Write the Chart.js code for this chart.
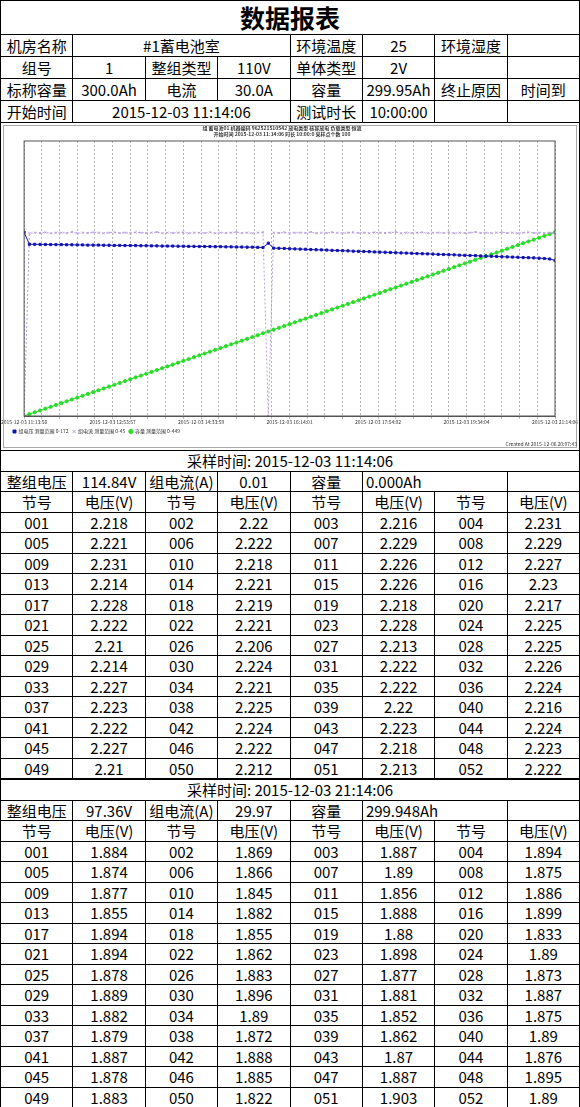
<!DOCTYPE html>
<html>
<head>
<meta charset="utf-8">
<script src="https://cdn.jsdelivr.net/npm/chart.js@4.4.0/dist/chart.umd.min.js"></script>
<style>
  body { margin: 0; background: #fff; font-family: "Noto Sans CJK SC", "Noto Sans", sans-serif; }
  #page { width: 580px; }
  table { width: 580px; border-collapse: collapse; table-layout: fixed; }
  td { border: 1px solid #000; padding: 0; font-size: 15px; line-height: 1; text-align: center; white-space: nowrap; overflow: hidden; }
  .head tr { height: 22px; }
  .head tr.title { height: 34px; }
  .head tr.title td { font-size: 25px; font-weight: bold; }
  .samp tr { height: 20.5px; }
  .l { text-align: left; padding-left: 3px; }
  #chartBox { height: 327px; border-left: 1px solid #000; border-right: 1px solid #000; box-sizing: border-box; position: relative; }
  #reportChart { display: block; }
</style>
</head>
<body>
<div id="page">
  <table class="head" id="headTable"></table>
  <div id="chartBox"><canvas id="reportChart" width="578" height="327"></canvas></div>
  <table class="samp" id="samp1"></table>
  <table class="samp" id="samp2"></table>
</div>
<script>
// ---- 曲线数据 (每 6 分钟一个采样点, 共 101 点) ----
const sampleStep = 6; // 分钟
const tickLabels = ['2015-12-03 11:13:56', '2015-12-03 12:53:57', '2015-12-03 14:33:59', '2015-12-03 16:14:01',
  '2015-12-03 17:54:02', '2015-12-03 19:34:04', '2015-12-03 21:14:06'];

const groupVoltage = [114.84,
  107.4,107.4,107.3,107.3,107.2,107.2,107.2,107.1,107.1,107.0,
  107.0,106.9,106.9,106.9,106.8,106.8,106.7,106.7,106.6,106.6,
  106.6,106.5,106.5,106.4,106.4,106.3,106.3,106.3,106.2,106.2,
  106.1,106.1,106.0,106.0,106.0,105.9,105.9,105.8,105.8,105.7,
  105.7,105.6,105.6,105.5,105.4,
  108.1,
  105.0,104.9,104.8,104.6,104.5,104.4,104.3,104.1,104.0,103.9,
  103.8,103.6,103.5,103.4,103.3,103.1,103.0,102.9,102.8,102.6,
  102.5,102.4,102.3,102.1,102.0,101.9,101.8,101.6,101.5,101.4,
  101.3,101.1,101.0,100.9,100.8,100.6,100.5,100.4,100.3,100.1,
  100.0,99.9,99.8,99.6,99.5,99.4,99.3,99.1,99.0,98.9,
  98.7,98.5,98.2,97.36];

const groupCurrent = [0.01,
  29.9,30.0,29.95,30.05,29.9,30.0,30.0,29.95,30.1,29.9,
  30.0,29.95,30.05,30.0,29.9,30.0,30.05,29.95,30.0,29.9,
  30.05,30.0,29.95,30.0,30.1,29.9,30.0,29.95,30.0,30.05,
  29.9,30.0,30.0,29.95,30.05,29.9,30.0,29.95,30.0,30.1,
  29.95,30.0,29.9,30.0,30.05,
  0.0,
  30.0,29.95,30.05,29.9,30.0,30.0,29.95,30.1,29.9,30.0,
  29.95,30.05,30.0,29.9,30.0,30.05,29.95,30.0,29.9,30.05,
  30.0,29.95,30.0,30.1,29.9,30.0,29.95,30.0,30.05,29.9,
  30.0,30.0,29.95,30.05,29.9,30.0,29.95,30.0,30.1,29.95,
  30.0,29.9,30.0,30.05,29.95,30.0,29.9,30.0,30.05,29.95,
  30.0,29.95,30.0,29.97];

const groupCapacity = [0,
  3,6,9,12,15,18,21,24,27,30,33,36,39,42,45,48,51,54,57,60,
  63,66,69,72,75,78,81,84,87,90,93,96,99,102,105,108,111,114,117,120,
  123,126,129,132,135,138,141,144,147,150,153,156,159,162,165,168,171,174,177,180,
  183,186,189,192,195,198,201,204,207,210,213,216,219,222,225,228,231,234,237,240,
  243,246,249,252,255,258,261,264,267,270,273,276,279,282,285,288,291,294,297,299.95];

// 测量范围
const voltageRange = 172, currentRange = 45, capacityRange = 449;

// ---- 表格数据 ----
const headRows = [
  [['机房名称', 1], ['#1蓄电池室', 3], ['环境温度', 1], ['25', 1], ['环境湿度', 1], ['', 1]],
  [['组号', 1], ['1', 1], ['整组类型', 1], ['110V', 1], ['单体类型', 1], ['2V', 1], ['', 1], ['', 1]],
  [['标称容量', 1], ['300.0Ah', 1], ['电流', 1], ['30.0A', 1], ['容量', 1], ['299.95Ah', 1], ['终止原因', 1], ['时间到', 1]],
  [['开始时间', 1], ['2015-12-03 11:14:06', 3], ['测试时长', 1], ['10:00:00', 1], ['', 1], ['', 1]]
];

const cellVolts1 = [2.218,2.22,2.216,2.231,2.221,2.222,2.229,2.229,2.231,2.218,2.226,2.227,2.214,2.221,2.226,2.23,
  2.228,2.219,2.218,2.217,2.222,2.221,2.228,2.225,2.21,2.206,2.213,2.225,2.214,2.224,2.222,2.226,
  2.227,2.221,2.222,2.224,2.223,2.225,2.22,2.216,2.222,2.224,2.223,2.224,2.227,2.222,2.218,2.223,
  2.21,2.212,2.213,2.222];
const cellVolts2 = [1.884,1.869,1.887,1.894,1.874,1.866,1.89,1.875,1.877,1.845,1.856,1.886,1.855,1.882,1.888,1.899,
  1.894,1.855,1.88,1.833,1.894,1.862,1.898,1.89,1.878,1.883,1.877,1.873,1.889,1.896,1.881,1.887,
  1.882,1.89,1.852,1.875,1.879,1.872,1.862,1.89,1.887,1.888,1.87,1.876,1.878,1.885,1.887,1.895,
  1.883,1.822,1.903,1.89];
const sample1 = { time: '2015-12-03 11:14:06', volt: '114.84V', cur: '0.01', cap: '0.000Ah', cells: cellVolts1 };
const sample2 = { time: '2015-12-03 21:14:06', volt: '97.36V', cur: '29.97', cap: '299.948Ah', cells: cellVolts2 };

// ---- 表头 ----
function buildHead() {
  let html = '<colgroup>' + '<col>'.repeat(8) + '</colgroup>';
  html += '<tr class="title"><td colspan="8">数据报表</td></tr>';
  headRows.forEach(row => {
    html += '<tr>' + row.map(([t, span]) => `<td colspan="${span}">${t}</td>`).join('') + '</tr>';
  });
  document.getElementById('headTable').innerHTML = html;
}

function buildSample(id, s) {
  let html = '<colgroup>' + '<col>'.repeat(8) + '</colgroup>';
  html += `<tr><td colspan="8">采样时间: ${s.time}</td></tr>`;
  html += `<tr><td>整组电压</td><td>${s.volt}</td><td>组电流(A)</td><td>${s.cur}</td><td>容量</td>` +
          `<td colspan="2" class="l">${s.cap}</td><td></td></tr>`;
  html += '<tr>' + '<td>节号</td><td>电压(V)</td>'.repeat(4) + '</tr>';
  for (let r = 0; r < s.cells.length / 4; r++) {
    html += '<tr>';
    for (let c = 0; c < 4; c++) {
      const i = r * 4 + c;
      html += `<td>${String(i + 1).padStart(3, '0')}</td><td>${s.cells[i]}</td>`;
    }
    html += '</tr>';
  }
  document.getElementById(id).innerHTML = html;
}

buildHead();
buildSample('samp1', sample1);
buildSample('samp2', sample2);

// ---- 曲线 ----
const toPoints = arr => arr.map((v, i) => ({ x: i * sampleStep, y: v }));

const frame = {
  id: 'frame',
  afterDraw(chart) {
    const { ctx, chartArea: a } = chart;
    ctx.save();
    ctx.strokeStyle = '#555';
    ctx.lineWidth = 1;
    ctx.strokeRect(a.left, a.top, a.right - a.left, a.bottom - a.top);
    ctx.strokeStyle = '#aaa';
    ctx.strokeRect(2.5, 2.5, chart.width - 5, chart.height - 5);
    ctx.fillStyle = '#333';
    ctx.font = '5px "Noto Sans CJK SC"';
    ctx.textAlign = 'right';
    ctx.fillText('Created At 2015-12-06 20:07:43', chart.width - 2, chart.height - 6);
    ctx.restore();
  }
};

new Chart(document.getElementById('reportChart'), {
  type: 'line',
  data: {
    datasets: [{
      label: '组电压 测量范围 0-172',
      data: toPoints(groupVoltage),
      yAxisID: 'yV',
      borderColor: '#1414b4',
      backgroundColor: '#1414b4',
      borderWidth: 1,
      pointStyle: 'rect',
      pointRadius: 1.5
    }, {
      label: '组电流 测量范围 0-45',
      data: toPoints(groupCurrent),
      yAxisID: 'yI',
      borderColor: '#b4a0dc',
      backgroundColor: '#b4a0dc',
      borderWidth: 1,
      borderDash: [2, 2],
      pointStyle: 'crossRot',
      pointRadius: 1.5
    }, {
      label: '容量 测量范围 0-449',
      data: toPoints(groupCapacity),
      yAxisID: 'yC',
      borderColor: '#28dc28',
      backgroundColor: '#28dc28',
      borderWidth: 1,
      pointStyle: 'circle',
      pointRadius: 1.6
    }]
  },
  options: {
    responsive: false,
    animation: false,
    layout: { padding: { left: 8, right: 24, top: 0, bottom: 6 } },
    plugins: {
      title: {
        display: true,
        text: ['组 蓄电池01 机器编码 962521510542 放电类型 核容放电 负载类型 恒流',
               '开始时间 2015-12-03 11:14:06 时长 10:00:0 采样点个数 100'],
        font: { size: 5, family: 'Noto Sans CJK SC' },
        color: '#333',
        padding: { top: 2, bottom: 4 }
      },
      legend: {
        position: 'bottom',
        align: 'start',
        labels: { font: { size: 5, family: 'Noto Sans CJK SC' }, color: '#333', boxWidth: 3, boxHeight: 3, padding: 4, usePointStyle: true }
      },
      tooltip: { enabled: false }
    },
    scales: {
      x: {
        type: 'linear',
        min: 0,
        max: 600,
        ticks: {
          stepSize: 20,
          autoSkip: false,
          maxRotation: 0,
          font: { size: 5, family: 'Noto Sans CJK SC' },
          color: '#333',
          padding: 0,
          callback: v => v % 100 === 0 ? tickLabels[v / 100] : ''
        },
        grid: { color: '#999', lineWidth: 0.7, tickLength: 3 },
        border: { dash: [2, 2], color: '#555' }
      },
      yV: { display: false, min: 0, max: voltageRange },
      yI: { display: false, min: 0, max: currentRange },
      yC: { display: false, min: 0, max: capacityRange }
    }
  },
  plugins: [frame]
});
</script>
</body>
</html>
